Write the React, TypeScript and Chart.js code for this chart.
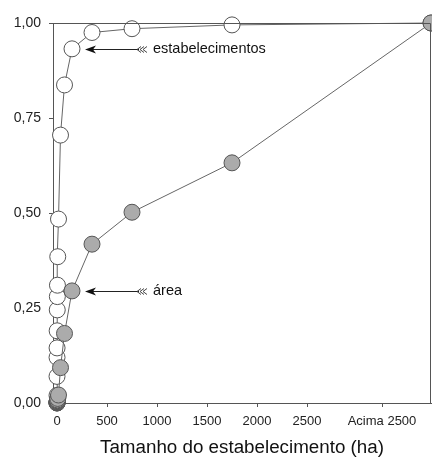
import React, { useEffect, useRef } from "react";
import { Chart, registerables } from "chart.js";

Chart.register(...registerables);

// Class midpoints (ha); last value stands for "Acima 2500"
const sizeClasses = [0, 0.05, 0.15, 0.35, 0.75, 1.5, 2.5, 3.5, 4.5, 7.5, 15, 35, 75, 150, 350, 750, 1750, 3740];
const estabelecimentos = [0, 0.02, 0.07, 0.12, 0.145, 0.19, 0.245, 0.28, 0.31, 0.385, 0.484, 0.705, 0.837, 0.932, 0.975, 0.985, 0.995, 1.0];
const area = [0, 0.0005, 0.001, 0.002, 0.003, 0.004, 0.005, 0.006, 0.008, 0.012, 0.021, 0.093, 0.183, 0.295, 0.418, 0.502, 0.632, 1.0];

const xTickValues = [0, 500, 1000, 1500, 2000, 2500, 3250];
const xTickLabels = ["0", "500", "1000", "1500", "2000", "2500", "Acima 2500"];
const yTickValues = [0, 0.25, 0.5, 0.75, 1.0];
const yTickLabels = ["0,00", "0,25", "0,50", "0,75", "1,00"];

const annotationIndex = 13;
const annotationLabels = ["área", "estabelecimentos"];

const FONT = 'Arial, "Liberation Sans", sans-serif';

const framePlugin = {
  id: "frame",
  afterDraw(chart: any) {
    const { ctx, chartArea } = chart;
    ctx.save();
    ctx.strokeStyle = "#555";
    ctx.lineWidth = 1;
    ctx.beginPath();
    ctx.moveTo(chartArea.left, chartArea.top + 0.5);
    ctx.lineTo(chartArea.right - 0.5, chartArea.top + 0.5);
    ctx.lineTo(chartArea.right - 0.5, chartArea.bottom);
    ctx.stroke();
    ctx.restore();
  },
};

const arrowPlugin = {
  id: "arrows",
  afterDatasetsDraw(chart: any) {
    const { ctx } = chart;
    ctx.save();
    chart.data.datasets.forEach((ds: any, di: number) => {
      const meta = chart.getDatasetMeta(di);
      const pt = meta.data[annotationIndex];
      if (!pt) return;
      const tipX = pt.x + 13;
      const y = Math.round(pt.y) + 0.5;
      const endX = tipX + 52;
      ctx.strokeStyle = "#222";
      ctx.fillStyle = "#111";
      ctx.lineWidth = 1;
      ctx.beginPath();
      ctx.moveTo(tipX + 6, y);
      ctx.lineTo(endX + 2, y);
      ctx.stroke();
      ctx.beginPath();
      ctx.moveTo(tipX, y);
      ctx.lineTo(tipX + 11, y - 4);
      ctx.lineTo(tipX + 8, y);
      ctx.lineTo(tipX + 11, y + 4);
      ctx.closePath();
      ctx.fill();
      ctx.strokeStyle = "#444";
      for (let k = 0; k < 3; k++) {
        const cx = endX + k * 3;
        ctx.beginPath();
        ctx.moveTo(cx + 4, y - 3);
        ctx.lineTo(cx, y);
        ctx.lineTo(cx + 4, y + 3);
        ctx.stroke();
      }
      ctx.fillStyle = "#111";
      ctx.font = `14.5px ${FONT}`;
      ctx.textAlign = "left";
      ctx.textBaseline = "middle";
      ctx.fillText(annotationLabels[di], endX + 16, y - 1);
    });
    ctx.restore();
  },
};

export default function App() {
  const ref = useRef<HTMLCanvasElement>(null);
  useEffect(() => {
    if (!ref.current) return;
    const common = {
      borderColor: "#666",
      borderWidth: 1,
      pointRadius: 8,
      pointHoverRadius: 8,
      pointBorderColor: "#555",
      pointBorderWidth: 1,
      tension: 0,
      clip: false as any,
      showLine: true,
    };
    const chart = new Chart(ref.current, {
      type: "scatter",
      data: {
        datasets: [
          {
            ...common,
            label: "área",
            data: sizeClasses.map((x, i) => ({ x, y: area[i] })),
            pointBackgroundColor: "#ababab",
          },
          {
            ...common,
            label: "estabelecimentos",
            data: sizeClasses.map((x, i) => ({ x, y: estabelecimentos[i] })),
            pointBackgroundColor: "#ffffff",
          },
        ],
      },
      options: {
        responsive: false,
        animation: false,
        events: [],
        layout: { autoPadding: false, padding: { top: 23, right: 1, left: 0, bottom: 0 } },
        plugins: { legend: { display: false }, tooltip: { enabled: false } },
        scales: {
          x: {
            type: "linear",
            min: -40,
            max: 3740,
            afterBuildTicks: (s: any) => {
              s.ticks = xTickValues.map((v) => ({ value: v }));
            },
            afterFit: (s: any) => {
              s.height = 54;
            },
            ticks: {
              autoSkip: false,
              maxRotation: 0,
              padding: 7,
              color: "#222",
              font: { family: FONT, size: 13 },
              callback: (v: any) => {
                const i = xTickValues.indexOf(Number(v));
                return i >= 0 ? xTickLabels[i] : "";
              },
            },
            grid: { drawOnChartArea: false, drawTicks: true, tickLength: 4, color: "#555" },
            border: { display: true, color: "#555", width: 1 },
            title: {
              display: true,
              text: "Tamanho do estabelecimento (ha)",
              color: "#111",
              font: { family: FONT, size: 18.8, lineHeight: 1 },
              padding: { top: 0, bottom: 0 },
            },
          },
          y: {
            type: "linear",
            min: 0,
            max: 1,
            afterBuildTicks: (s: any) => {
              s.ticks = yTickValues.map((v) => ({ value: v }));
            },
            afterFit: (s: any) => {
              s.width = 53;
            },
            ticks: {
              padding: 8,
              color: "#222",
              font: { family: FONT, size: 14 },
              callback: (v: any) => {
                const i = yTickValues.indexOf(Number(v));
                return i >= 0 ? yTickLabels[i] : "";
              },
            },
            grid: { drawOnChartArea: false, drawTicks: true, tickLength: 4, color: "#555" },
            border: { display: true, color: "#555", width: 1 },
          },
        },
      },
      plugins: [framePlugin, arrowPlugin],
    });
    return () => chart.destroy();
  }, []);
  return (
    <div style={{ position: "fixed", left: 0, top: 0, width: 432, height: 457, background: "#fff" }}>
      <canvas ref={ref} width={432} height={457} style={{ display: "block" }} />
    </div>
  );
}
